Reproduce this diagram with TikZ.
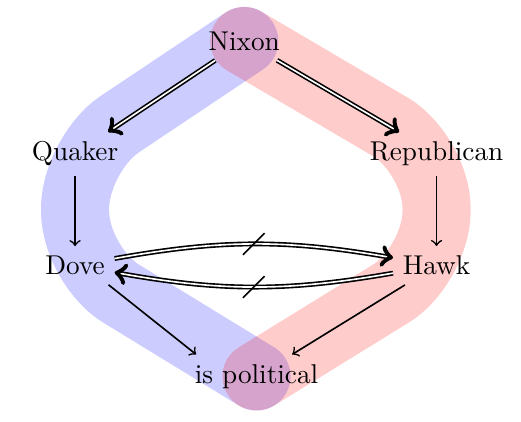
\documentclass[tikz,border=0pt]{standalone}
\usetikzlibrary{backgrounds}
\begin{document}
\begin{tikzpicture}[
    every path/.style={semithick},
    imp/.style={double, ->},
    band/.style={line width=0.88cm, opacity=0.2, line cap=round, line join=round, rounded corners=0.7cm},
    cut/.style={semithick}
]
\useasboundingbox (0,0) rectangle (6.731,-5.452);

% Nodes
\node (nixon) at (3.155,-0.53) {Nixon};
\node (quaker) at (0.97,-1.99) {Quaker};
\node (republican) at (5.64,-1.99) {Republican};
\node (dove) at (0.97,-3.43) {Dove};
\node (hawk) at (5.64,-3.43) {Hawk};
\node (political) at (3.314,-4.863) {is political};

% Bands
\begin{scope}[on background layer]
\draw[band, blue] (nixon.center) -- (quaker.center) -- (dove.center) -- (political.center);
\draw[band, red] (nixon.center) -- (republican.center) -- (hawk.center) -- (political.center);
\end{scope}

% Strict links
\draw[imp] (nixon) -- (quaker);
\draw[imp] (nixon) -- (republican);

% Defeasible links
\draw[->] (quaker) -- (dove);
\draw[->] (republican) -- (hawk);
\draw[->] (dove.-30) -- (political.160);
\draw[->] (hawk) -- (political);

% Conflict
\draw[imp] (dove) to[bend left=10] node[coordinate, midway] (cutA) {} (hawk);
\draw[imp] (hawk) to[bend left=10] node[coordinate, midway] (cutB) {} (dove);
\draw[cut] ([shift={(-0.14,-0.14)}]cutA) -- ([shift={(0.14,0.14)}]cutA);
\draw[cut] ([shift={(-0.14,-0.14)}]cutB) -- ([shift={(0.14,0.14)}]cutB);
\end{tikzpicture}
\end{document}
